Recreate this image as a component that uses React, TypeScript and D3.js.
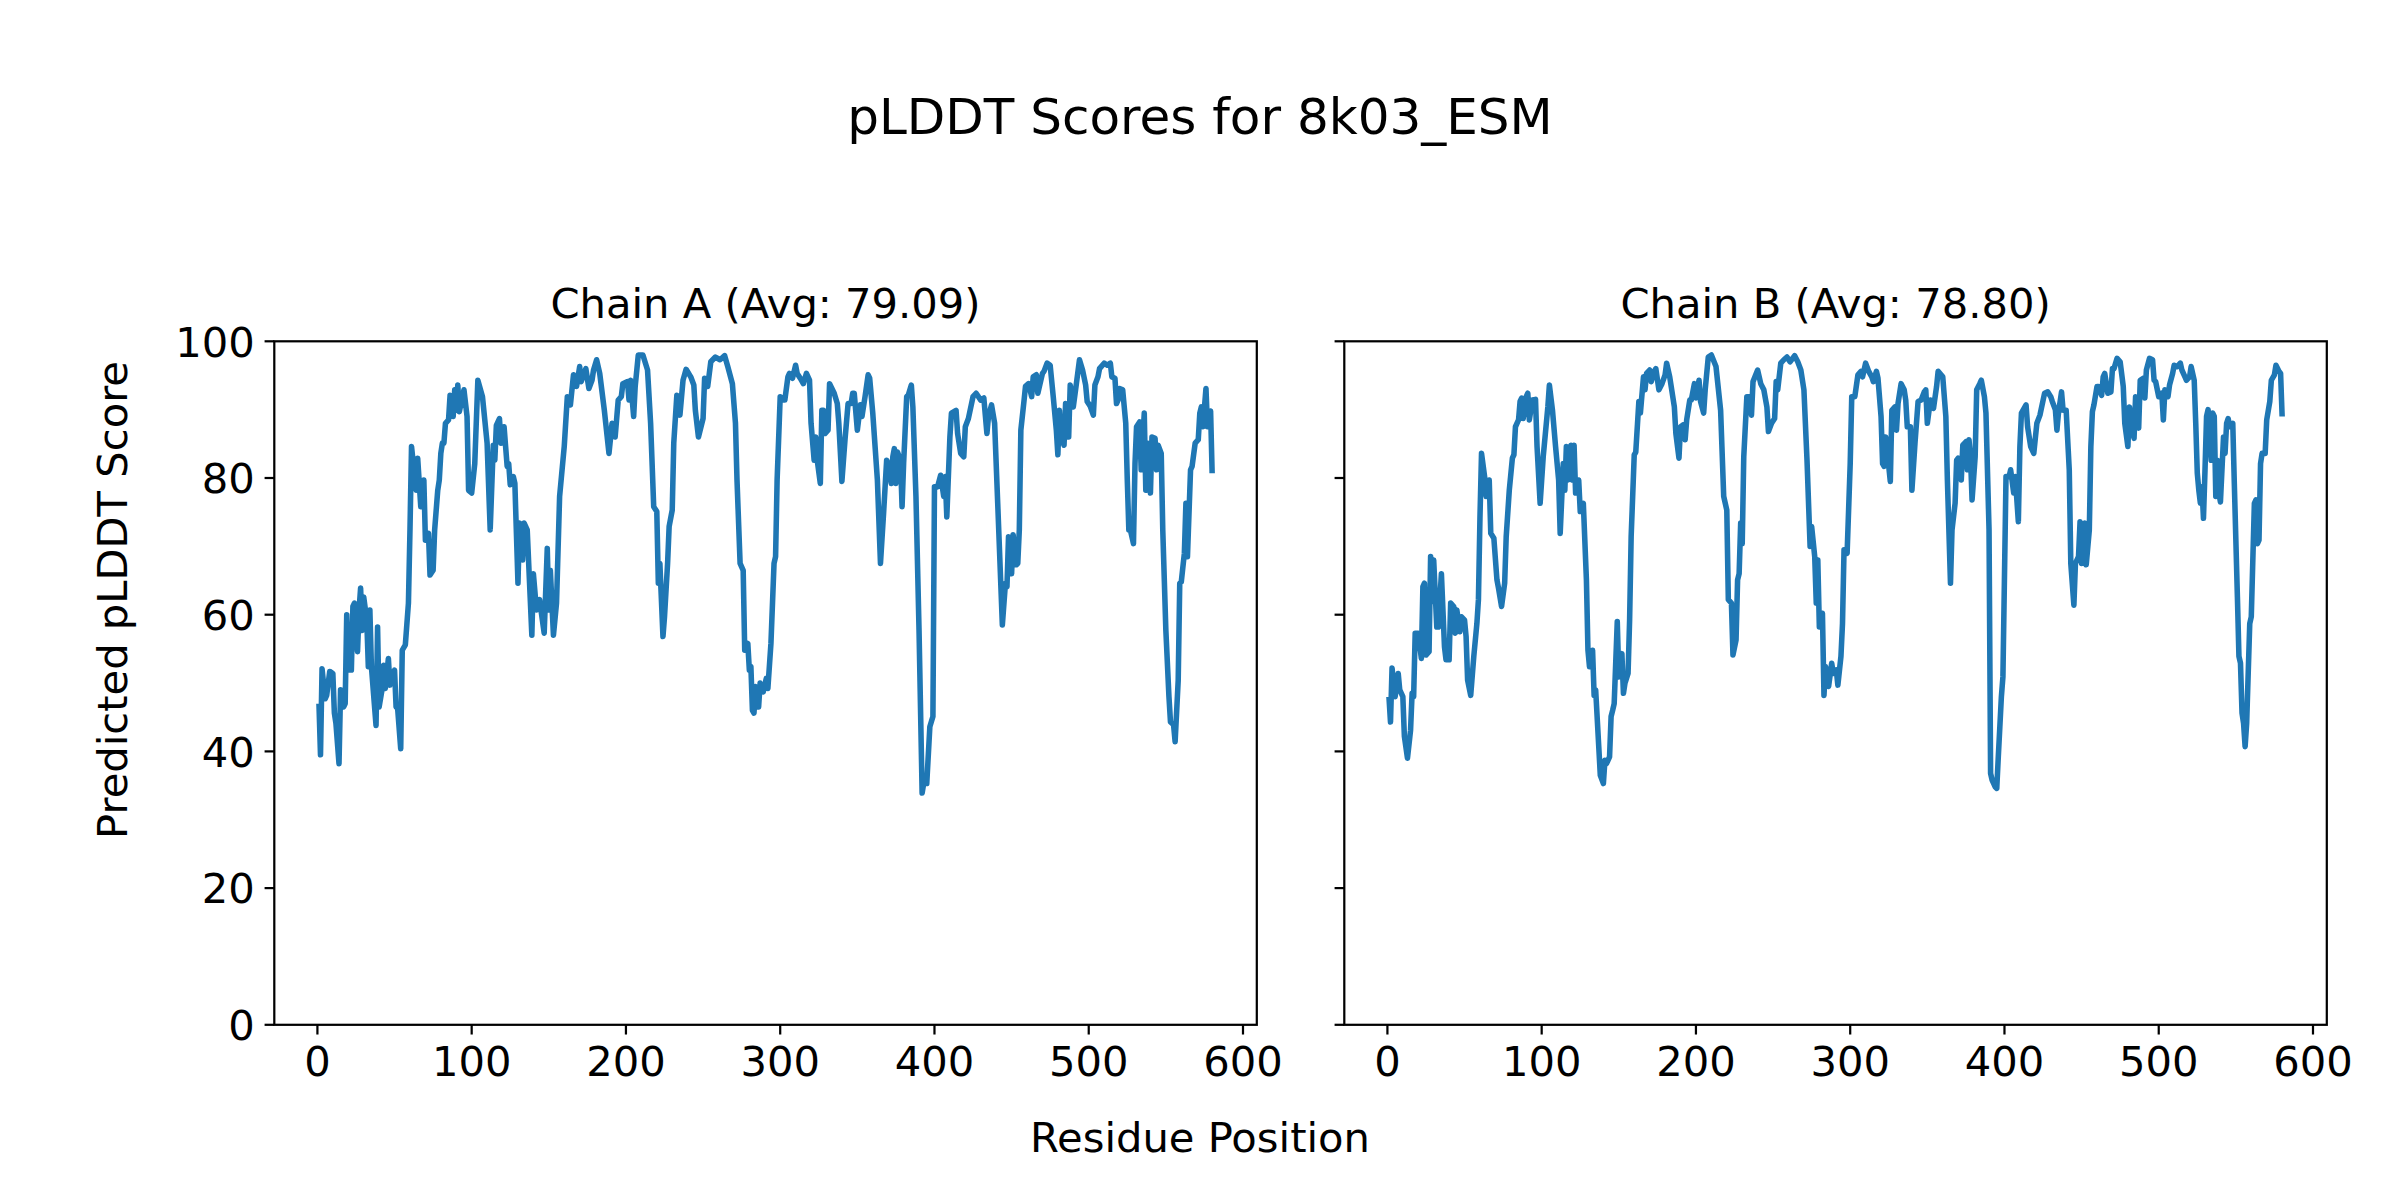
import React from "react";
import * as d3 from "d3";

// ---------- data ----------
const chainTitles = ["Chain A (Avg: 79.09)", "Chain B (Avg: 78.80)"];
const figTitle = "pLDDT Scores for 8k03_ESM";
const xLabel = "Residue Position";
const yLabel = "Predicted pLDDT Score";
const xTicks = [0, 100, 200, 300, 400, 500, 600];
const yTicks = [0, 20, 40, 60, 80, 100];

const residuesA = [1,2,3,5,6,8,10,11,12,14,15,17,18,19,20,22,23,24,26,27,28,29,30,32,33,34,35,38,39,40,42,43,44,46,47,50,51,52,54,55,57,59,60,61,64,65,67,69,70,72,73,75,76,78,79,80,81,82,83,85,86,88,89,90,91,92,95,97,98,100,102,104,107,110,112,114,115,116,118,119,121,123,124,125,127,128,130,131,133,134,136,139,140,142,144,147,149,150,151,153,155,157,160,162,164,166,168,170,171,174,176,178,179,181,183,186,189,191,193,195,197,198,201,202,203,205,206,208,211,214,216,218,220,221,222,224,225,227,228,230,231,233,235,237,239,242,244,245,247,250,251,253,255,258,261,264,266,269,271,272,274,276,277,279,280,281,282,283,284,286,287,289,291,292,294,296,297,298,300,302,303,305,306,308,310,311,313,315,317,319,320,322,323,324,326,327,328,329,331,332,335,337,338,340,342,344,346,347,348,350,352,353,355,357,358,360,363,365,367,369,370,372,373,374,375,376,378,379,380,382,383,385,386,388,390,392,393,395,397,399,400,402,404,406,407,408,410,411,414,415,417,419,420,422,425,427,430,432,434,435,437,439,441,444,446,447,448,450,451,453,454,455,456,458,459,461,463,464,466,467,470,471,473,475,477,479,480,481,482,484,485,486,487,488,490,492,494,496,498,499,501,503,504,506,507,510,512,514,515,517,518,519,520,522,524,525,526,527,529,530,531,533,534,536,537,538,540,541,543,544,545,547,548,550,552,553,555,556,558,559,560,562,563,564,566,567,569,571,572,573,574,576,577,579,580];
const scoresA = [47.0,39.5,52.1,47.7,48.2,51.7,51.4,45.6,44.1,38.2,49.0,46.5,47.0,60.0,51.9,51.9,61.2,61.7,54.6,60.7,63.9,57.7,62.6,59.2,52.4,60.7,52.4,43.8,58.2,46.5,49.2,52.6,49.2,53.6,49.7,51.9,46.5,46.3,40.4,54.8,55.6,61.7,72.4,84.6,78.2,82.9,75.8,79.7,70.9,71.9,65.8,66.5,72.4,78.2,79.7,83.6,85.1,85.1,88.0,88.5,92.1,89.0,92.9,89.9,93.6,89.7,92.9,89.0,78.2,77.8,82.1,94.3,91.9,85.1,72.4,84.8,82.6,87.7,88.7,85.1,87.5,81.7,82.1,79.0,80.2,79.2,64.6,73.4,68.0,73.4,72.4,57.0,66.0,60.7,62.2,57.3,69.7,60.7,66.5,57.0,61.7,77.3,84.6,91.9,90.7,95.1,93.4,96.3,94.1,96.0,93.1,94.3,95.8,97.3,95.3,89.9,83.6,88.0,86.0,91.4,91.9,93.8,94.1,91.4,94.3,89.0,93.4,98.0,98.0,95.8,88.0,75.8,75.1,64.6,67.5,56.8,59.7,67.5,72.9,75.3,85.1,92.1,89.2,94.3,95.9,94.8,93.6,89.9,86.0,88.7,94.6,93.4,97.0,97.7,97.3,97.9,96.3,93.8,88.0,79.7,67.5,66.5,54.8,55.8,51.9,52.4,46.0,45.6,49.5,46.5,50.0,48.7,50.7,49.2,55.8,67.5,68.5,79.7,91.9,91.4,91.4,94.8,95.3,94.6,96.5,95.3,94.6,93.8,95.3,94.3,88.0,82.6,86.0,82.6,79.2,89.9,89.9,86.5,87.0,93.8,92.4,90.9,88.0,79.5,85.6,90.9,90.9,92.4,92.4,87.0,90.7,89.0,91.9,95.1,94.6,89.5,79.7,67.5,74.8,82.6,82.1,79.2,83.1,84.3,79.2,83.8,82.6,75.8,82.1,91.9,92.1,93.6,90.4,77.3,57.7,33.9,35.3,35.3,43.6,45.1,78.7,78.7,80.4,77.3,80.2,74.3,86.0,89.5,89.9,86.5,83.6,83.1,87.5,88.7,91.9,92.4,91.4,91.7,86.5,89.0,90.7,88.0,76.3,58.5,64.6,64.1,71.4,66.0,71.7,67.3,67.5,72.4,87.0,91.2,93.4,93.8,91.9,94.8,95.1,92.4,95.3,95.6,96.8,96.5,91.9,87.0,83.4,89.9,86.0,84.8,90.9,86.0,86.0,93.6,90.4,93.8,97.3,95.8,93.6,91.2,90.5,89.2,93.6,94.8,96.0,96.8,96.5,96.8,94.8,94.6,90.9,91.4,93.1,92.9,88.0,79.7,72.4,72.4,70.4,82.1,87.5,88.2,81.2,89.5,78.2,85.1,77.8,86.0,85.8,81.2,84.8,83.6,72.4,57.7,48.0,44.3,43.9,41.4,50.4,64.6,64.8,69.0,76.3,68.5,81.2,81.7,85.1,85.6,89.5,90.4,87.5,93.1,87.5,89.8,80.7];

const residuesB = [1,2,3,5,7,8,10,11,13,15,16,17,18,20,22,23,24,25,27,28,29,30,32,33,35,37,38,40,41,43,44,45,47,48,50,51,52,54,56,58,59,60,61,63,64,66,67,69,71,72,74,76,77,79,81,82,83,85,86,87,88,90,91,92,94,96,97,99,101,104,105,107,109,111,112,114,115,116,117,119,120,121,122,124,125,127,129,130,131,133,134,135,137,138,140,141,142,144,145,146,147,149,150,152,153,154,156,157,158,160,161,163,164,166,167,168,170,171,173,174,176,178,180,181,183,186,187,189,190,192,193,194,196,197,199,200,202,203,205,206,208,210,213,216,218,220,221,223,224,226,227,228,229,230,231,233,235,236,237,240,242,244,246,247,249,251,252,253,255,257,259,261,264,266,268,270,272,274,275,277,278,279,280,282,283,284,286,288,289,291,292,294,295,296,298,300,301,303,305,307,308,310,312,314,315,317,318,320,321,322,323,325,326,327,329,330,331,333,335,336,337,339,340,342,344,346,348,349,350,352,354,356,357,360,362,363,365,366,368,369,370,372,373,375,376,377,378,379,381,382,384,385,387,388,390,391,392,394,395,396,397,398,399,401,403,404,406,407,409,410,411,414,415,417,419,421,423,426,428,430,431,433,434,435,437,438,440,442,443,445,446,448,449,450,452,453,455,456,457,458,460,461,463,464,465,467,469,470,471,473,475,477,478,480,481,483,484,485,486,487,488,490,491,492,494,496,497,498,500,502,503,504,506,507,509,510,512,514,515,517,518,520,521,523,524,525,526,527,528,529,530,531,532,534,535,536,537,538,539,540,542,543,544,545,546,548,549,551,552,553,554,555,556,557,559,560,562,563,564,565,566,567,569,570,572,573,575,576,578,579,580];
const scoresB = [48.0,44.3,52.2,48.0,51.4,49.0,48.0,42.2,39.0,43.1,48.5,48.0,57.3,57.3,53.6,64.1,64.6,54.1,54.6,68.5,61.9,68.0,58.2,58.2,66.0,55.3,53.4,53.4,61.7,61.2,57.3,60.7,57.5,59.7,59.2,56.8,50.4,48.2,53.9,58.7,62.2,74.3,83.6,80.2,77.3,79.7,71.9,71.2,65.1,63.9,61.2,64.6,71.4,78.2,82.9,83.4,87.5,88.5,91.2,91.7,88.7,91.9,92.4,88.5,91.4,91.5,84.6,76.3,83.1,90.4,93.6,89.9,84.6,79.7,71.9,82.1,78.2,84.6,79.7,84.8,79.7,84.8,77.8,79.7,75.1,76.3,65.1,54.8,52.4,54.8,48.2,49.0,40.7,36.5,35.3,38.7,38.2,39.2,45.1,46.0,47.0,59.0,50.9,54.3,48.5,50.0,51.4,59.2,71.4,83.4,83.8,91.2,89.5,94.8,92.9,95.3,95.8,94.1,95.6,96.0,92.9,93.8,95.1,96.8,94.8,90.4,86.5,82.9,87.5,87.8,85.6,88.5,91.4,91.4,93.8,91.7,94.3,91.2,89.5,92.9,97.7,98.0,96.3,89.9,77.3,75.3,62.2,61.7,54.1,56.3,65.1,66.0,73.4,70.4,83.1,91.9,91.9,89.2,94.1,95.8,93.8,92.9,90.4,86.8,88.0,88.7,94.1,92.9,96.8,97.3,97.7,97.0,97.9,97.0,95.8,92.9,82.6,70.0,72.9,68.5,61.7,68.0,58.2,60.2,48.2,52.4,49.5,52.9,51.4,51.9,49.7,53.9,58.7,69.5,69.0,82.1,91.9,91.9,95.1,95.6,94.8,96.8,95.6,94.8,94.1,95.6,94.6,89.0,82.1,81.7,86.0,81.7,79.5,89.9,90.4,87.0,90.9,93.8,92.9,91.4,87.5,87.5,78.2,85.1,91.2,91.4,92.6,92.9,88.0,91.4,90.2,93.4,95.6,94.8,89.0,79.7,64.6,72.4,76.3,82.6,82.9,79.7,84.8,85.3,81.2,85.6,83.1,76.8,83.1,92.9,93.8,94.3,91.9,89.5,72.4,36.8,35.8,34.8,34.6,39.2,43.6,48.0,50.9,80.2,80.2,81.2,77.8,80.2,73.6,84.6,89.5,90.7,87.5,84.6,83.6,88.0,89.2,92.4,92.6,91.9,91.2,90.0,87.0,89.5,92.6,89.9,89.9,81.2,67.5,61.4,67.5,68.5,73.6,67.5,73.4,67.3,72.4,84.6,89.7,90.7,93.4,93.4,92.1,94.8,95.3,92.4,92.6,96.0,96.0,97.5,97.0,93.4,88.0,84.6,90.4,87.0,85.8,91.9,89.0,87.3,94.3,94.6,91.7,95.8,97.5,97.3,94.3,94.1,91.9,92.4,88.5,92.9,91.9,93.6,95.3,96.5,96.3,96.8,95.8,94.8,94.3,94.8,96.3,94.3,88.0,80.7,78.2,76.3,78.7,74.1,81.2,89.0,90.0,82.6,89.5,89.0,77.3,82.6,77.8,76.5,86.0,83.6,88.0,88.7,87.5,88.0,79.2,62.6,53.9,52.9,45.6,44.1,40.7,44.1,58.7,59.7,76.3,76.8,70.4,70.9,82.1,83.6,83.6,88.5,91.2,94.3,95.1,96.5,95.6,95.3,89.0];

// ---------- layout ----------
const W = 2400;
const H = 1200;
const FONT = "DejaVu Sans, sans-serif";
const PX = 200 / 72; // points -> pixels at 200 dpi
const panelLefts = [274.3, 1344.3];
const panelWidth = 982.5;
const axTop = 341.3;
const axBottom = 1024.8;
const lineColor = "#1f77b4";
const baseFont = 15 * PX;
const titleFont = 18 * PX;

function Panel({ left, title, residues, scores, showYLabels }) {
  const n = residues.length;
  const xmin = residues[0];
  const xmax = residues[n - 1];
  const margin = (xmax - xmin) * 0.05;
  const x = d3.scaleLinear().domain([xmin - margin, xmax + margin]).range([left, left + panelWidth]);
  const y = d3.scaleLinear().domain([0, 100]).range([axBottom, axTop]);
  const pts = residues.map((r, i) => [r, scores[i]]);
  const line = d3.line().x((d) => x(d[0])).y((d) => y(d[1]));
  const tickLen = 3.5 * PX;
  const tickW = 0.8 * PX;
  const pad = 3.5 * PX;
  return (
    <g>
      <path d={line(pts)} fill="none" stroke={lineColor} strokeWidth={2 * PX} strokeLinejoin="round" strokeLinecap="butt" />
      <rect x={left} y={axTop} width={panelWidth} height={axBottom - axTop} fill="none" stroke="#000" strokeWidth={tickW} />
      {xTicks.map((t) => (
        <g key={"x" + t}>
          <line x1={x(t)} x2={x(t)} y1={axBottom} y2={axBottom + tickLen} stroke="#000" strokeWidth={tickW} />
          <text x={x(t)} y={axBottom + tickLen + pad + baseFont * 0.76} textAnchor="middle" fontSize={baseFont} fontFamily={FONT}>{t}</text>
        </g>
      ))}
      {yTicks.map((t) => (
        <g key={"y" + t}>
          <line x1={left - tickLen} x2={left} y1={y(t)} y2={y(t)} stroke="#000" strokeWidth={tickW} />
          {showYLabels ? (
            <text x={left - tickLen - pad} y={y(t) + baseFont * 0.365} textAnchor="end" fontSize={baseFont} fontFamily={FONT}>{t}</text>
          ) : null}
        </g>
      ))}
      <text x={left + panelWidth / 2} y={318} textAnchor="middle" fontSize={baseFont} fontFamily={FONT}>{title}</text>
    </g>
  );
}

export default function App() {
  return (
    <svg width={W} height={H} viewBox={`0 0 ${W} ${H}`} style={{ position: "absolute", left: 0, top: 0, display: "block", background: "#fff" }}>
      <rect x={0} y={0} width={W} height={H} fill="#fff" />
      <text x={W / 2} y={134} textAnchor="middle" fontSize={titleFont} fontFamily={FONT}>{figTitle}</text>
      <Panel left={panelLefts[0]} title={chainTitles[0]} residues={residuesA} scores={scoresA} showYLabels={true} />
      <Panel left={panelLefts[1]} title={chainTitles[1]} residues={residuesB} scores={scoresB} showYLabels={false} />
      <text x={W / 2} y={1152} textAnchor="middle" fontSize={baseFont} fontFamily={FONT}>{xLabel}</text>
      <text transform={`translate(127, 600) rotate(-90)`} textAnchor="middle" fontSize={baseFont} fontFamily={FONT}>{yLabel}</text>
    </svg>
  );
}
